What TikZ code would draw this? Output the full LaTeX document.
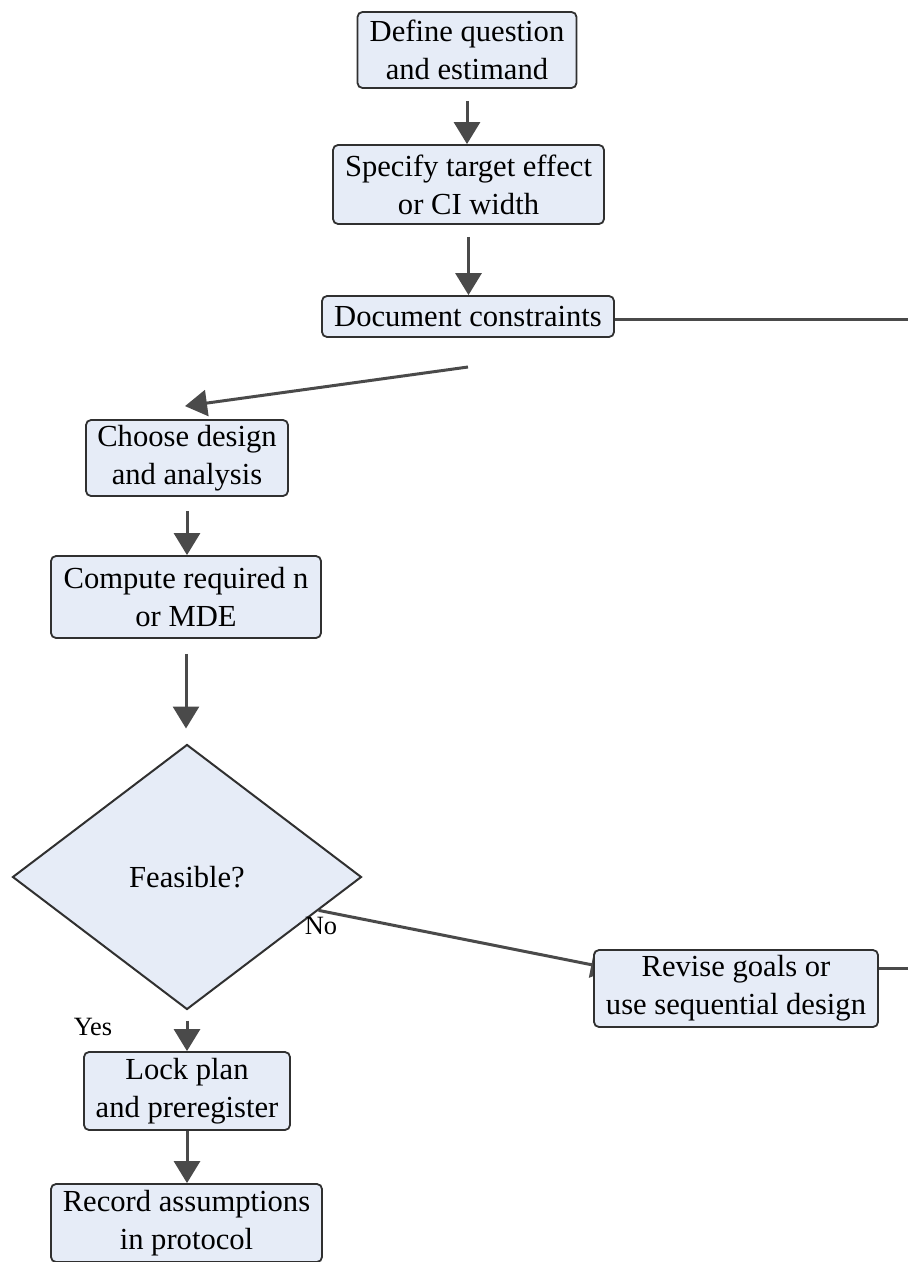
\documentclass[tikz,border=0pt]{standalone}
\usepackage{fontspec}
\setmainfont{LiberationSerif}[Extension=.ttf,UprightFont=*-Regular,BoldFont=*-Bold,ItalicFont=*-Italic,BoldItalicFont=*-BoldItalic]
\usetikzlibrary{arrows.meta,shapes.geometric,backgrounds,calc}
\definecolor{boxfill}{HTML}{E6ECF7}
\definecolor{boxline}{HTML}{303030}
\definecolor{arrowgray}{HTML}{4A4A4A}

\begin{document}
\begin{tikzpicture}[x=0.5pt,y=-0.5pt,
	box/.style={draw=boxline,fill=boxfill,rounded corners=2.5pt,line width=0.9pt,align=center,inner sep=0pt,font=\fontsize{15.3}{19}\selectfont},
	decision/.style={diamond,draw=boxline,fill=boxfill,line width=1pt,inner sep=0pt,font=\fontsize{15.3}{19}\selectfont},
	flow/.style={-{Triangle[length=11pt,width=13pt]},draw=arrowgray,line width=1.5pt},
	link/.style={-,draw=arrowgray,line width=1.5pt},
	tag/.style={inner sep=0pt,font=\fontsize{13.2}{16}\selectfont}]
	\useasboundingbox (0,0) rectangle (908,1262);
	\node[box,minimum width=109.5pt,minimum height=38pt] (define) at (467,50) {Define question\\and estimand};
	\node[box,minimum width=135.5pt,minimum height=39.5pt] (specify) at (468.5,184.5) {Specify target effect\\or CI width};
	\node[box,minimum width=146pt,minimum height=20.5pt] (doc) at (468,316.5) {Document constraints};
	\node[box,minimum width=101pt,minimum height=38pt] (choose) at (187,458) {Choose design\\and analysis};
	\node[box,minimum width=135pt,minimum height=41pt] (compute) at (186,597) {Compute required n\\or MDE};
	\node[decision,minimum width=174.5pt,minimum height=132.5pt] (feasible) at (187,877) {Feasible?};
	\node[box,minimum width=142pt,minimum height=38.5pt] (revise) at (736,988.5) {Revise goals or\\use sequential design};
	\node[box,minimum width=103pt,minimum height=39pt] (lock) at (187,1091) {Lock plan\\and preregister};
	\node[box,minimum width=135.5pt,minimum height=39pt] (record) at (186.5,1223) {Record assumptions\\in protocol};
	\node[tag] (lblno) at (321,926) {No};
	\node[tag] (lblyes) at (93,1027) {Yes};
	\coordinate (docout) at (908,320);
	\coordinate (split) at (468,367);
	\coordinate (noend) at (613,969);
	\coordinate (reviseout) at (908,968);
	\begin{scope}[on background layer]
		\path[every edge/.style={flow}]
		(define.south) edge[shorten <=6pt] (define.south |- specify.north)
		(specify.south) edge[shorten <=6pt] (specify.south |- doc.north)
		(doc.east |- docout) edge[link] (docout)
		(split) edge ($(choose.north)+(-2,-13)$)
		(choose.south) edge[shorten <=7pt] (choose.south |- compute.north)
		(compute.south) edge[shorten <=7.5pt,shorten >=7.5pt] (compute.south |- feasible.north)
		($(feasible.east)!0.25!(feasible.south)$) edge (noend)
		(feasible.south) edge[shorten <=5pt] (feasible.south |- lock.north)
		(lock.south) edge (lock.south |- record.north)
		(revise.east |- reviseout) edge[link] (reviseout);
	\end{scope}
\end{tikzpicture}
\end{document}
